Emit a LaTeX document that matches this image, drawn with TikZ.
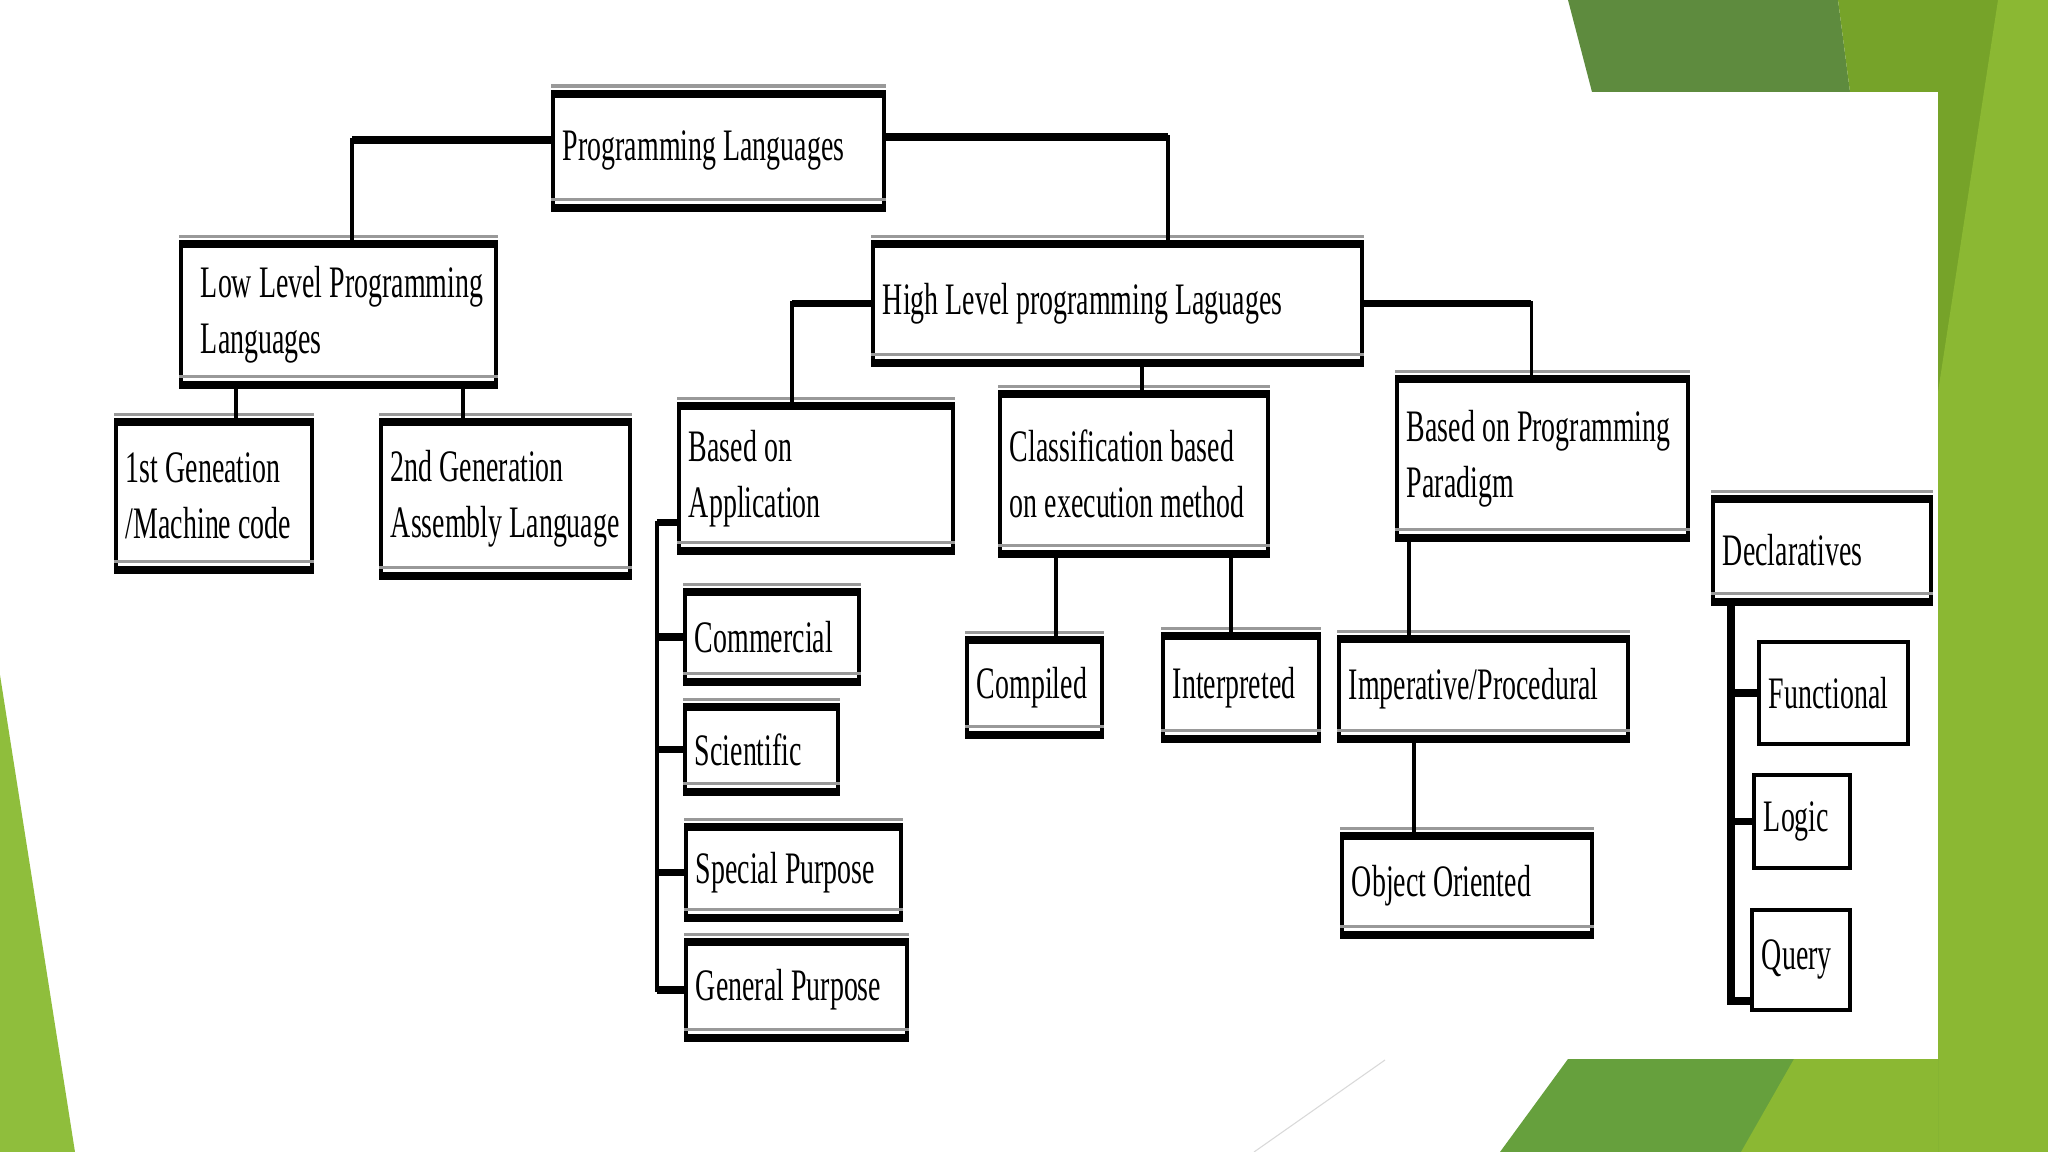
\documentclass[tikz,border=0pt]{standalone}
\usepackage{fontspec}
\setmainfont{Liberation Serif}[FakeStretch=0.62]
\usetikzlibrary{calc}
\definecolor{pldark}{HTML}{5E8B3E}
\definecolor{plmid}{HTML}{76A329}
\definecolor{pllight}{HTML}{8BB833}
\definecolor{plbottom}{HTML}{66A03D}
\definecolor{plleft}{HTML}{8FBE3C}
\tikzset{
  pl box/.style 2 args={draw=black, line width=1.1pt, fill=white, anchor=north west,
    align=left, inner xsep=0.1cm, inner ysep=0pt,
    font=\fontsize{12.8pt}{15.9pt}\selectfont,
    execute at begin node={\spaceskip=2pt plus 1pt minus .5pt\relax\hyphenpenalty=10000\relax},
    minimum width=#1*0.01cm, text width=#1*0.01cm-0.2cm, minimum height=#2*0.01cm},
  pl link/.style={draw=black, line width=1.1pt},
  pl stub/.style={draw=black, line width=2.1pt},
  pl rim/.style={draw=black, line width=2.4pt},
  pl shade/.style={draw=black!40, line width=1pt}
}

\begin{document}
\begin{tikzpicture}[x=0.01cm, y=-0.01cm]
  \useasboundingbox (0,0) rectangle (2048,1152);
  % slide background
  \fill[white] (0,0) rectangle (2048,1152);
  \fill[plleft] (0,675) -- (75,1152) -- (0,1152) -- cycle;
  \fill[pldark] (1568,0) -- (1592,92) -- (1850,92) -- (1838,0) -- cycle;
  \fill[plmid] (1838,0) -- (2048,0) -- (2048,1152) -- (1938,1152) -- (1938,92) -- (1850,92) -- cycle;
  \fill[pllight] (1998,0) -- (2048,0) -- (2048,1152) -- (1938,1152) -- (1938,392) -- cycle;
  \fill[plbottom] (1500,1152) -- (1568,1059) -- (1938,1059) -- (1938,1152) -- cycle;
  \fill[pllight] (1741,1152) -- (1794,1059) -- (1938,1059) -- (1938,1152) -- cycle;
  \draw[black!15, line width=0.3pt] (1254,1152) -- (1385,1060);

  % boxes
  \node[pl box={331}{110}] (pl) at (551,94) {Programming Languages};
  \node[pl box={315}{137}] (low) at (179,244) {\hspace{0.1cm}Low Level Programming\\\hspace{0.1cm}Languages};
  \node[pl box={196}{144}] (gen1) at (114,422) {1st Geneation\\/Machine code};
  \node[pl box={249}{150}] (gen2) at (379,422) {2nd Generation\\Assembly Language};
  \node[pl box={489}{115}] (high) at (871,244) {High Level programming Laguages};
  \node[pl box={274}{141}] (boa) at (677,406) {Based on\\Application};
  \node[pl box={268}{156}] (class) at (998,394) {Classification based\\on execution method};
  \node[pl box={291}{155}] (bpp) at (1395,379) {Based on Programming\\Paradigm};
  \node[pl box={174}{86}] (comm) at (683,592) {Commercial};
  \node[pl box={153}{81}] (sci) at (683,707) {Scientific};
  \node[pl box={215}{87}] (spec) at (684,827) {Special Purpose};
  \node[pl box={221}{92}] (gen) at (684,942) {General Purpose};
  \node[pl box={135}{91}] (comp) at (965,640) {Compiled};
  \node[pl box={156}{99}] (interp) at (1161,636) {Interpreted};
  \node[pl box={289}{96}] (imper) at (1337,639) {Imperative/Procedural};
  \node[pl box={250}{95}] (oo) at (1340,836) {Object Oriented};
  \node[pl box={218}{99}] (decl) at (1711,499) {Declaratives};
  \node[pl box={149}{102}] (func) at (1757,640) {Functional};
  \node[pl box={96}{93}] (logic) at (1752,773) {Logic};
  \node[pl box={98}{100}] (query) at (1750,908) {Query};

  % heavy top and bottom edges
  \foreach \n in {pl,low,gen1,gen2,high,boa,class,bpp,comm,sci,spec,gen,comp,interp,imper,oo,decl} {
    \draw[pl shade] ([yshift=2.2pt]\n.north west) -- ([yshift=2.2pt]\n.north east);
    \draw[pl shade] ([yshift=2.4pt]\n.south west) -- ([yshift=2.4pt]\n.south east);
    \draw[pl rim] (\n.north west) -- (\n.north east);
    \draw[pl rim] (\n.south west) -- (\n.south east);
  }

  % connector ends
  \coordinate (plleft) at ([yshift=.11cm]pl.west);
  \coordinate (plright) at ([yshift=.14cm]pl.east);
  \coordinate (lowtop) at ([xshift=.135cm]low.north);
  \coordinate (hightop) at ([xshift=.505cm]high.north);
  \coordinate (boatop) at ([xshift=-.24cm]boa.north);
  \coordinate (bpptop) at ([xshift=-.11cm]bpp.north);

  % connectors
  \draw[pl link] (plleft) -| (lowtop);
  \draw[pl stub] (plleft) -- (plleft -| lowtop);
  \draw[pl link] (plright) -| (hightop);
  \draw[pl stub] (plright) -- (plright -| hightop);
  \draw[pl link] ([xshift=.22cm]gen1.north) -- ([xshift=.22cm]gen1.north |- low.south);
  \draw[pl link] ([xshift=-.425cm]gen2.north) -- ([xshift=-.425cm]gen2.north |- low.south);
  \draw[pl link] (high.west) -| (boatop);
  \draw[pl stub] (high.west) -- (high.west -| boatop);
  \draw[pl link] ([xshift=.08cm]class.north) -- ([xshift=.08cm]class.north |- high.south);
  \draw[pl link] (high.east) -| (bpptop);
  \draw[pl stub] (high.east) -- (high.east -| bpptop);
  \draw[pl link] ([yshift=-.44cm]boa.west) -- ++(-.2cm,0) coordinate (appspine) |- (gen.west);
  \foreach \n in {comm,sci,spec,gen} \draw[pl stub] (\n.west) -- (\n.west -| appspine);
  \draw[pl stub] ([yshift=-.44cm]boa.west) -- (appspine);
  \draw[pl link] ([xshift=.215cm]comp.north) -- ([xshift=.215cm]comp.north |- class.south);
  \draw[pl link] ([xshift=-.1cm]interp.north) -- ([xshift=-.1cm]interp.north |- class.south);
  \draw[pl link] ([xshift=.14cm]bpp.south west) -- ([xshift=.14cm]bpp.south west |- imper.north);
  \draw[pl link] ([xshift=.77cm]imper.south west) -- ([xshift=.77cm]imper.south west |- oo.north);
  \draw[pl stub] ([xshift=.2cm]decl.south west) coordinate (declspine) |- ([yshift=.11cm]query.south west);
  \foreach \n in {func,logic} \draw[pl stub] (\n.west) -- (\n.west -| declspine);
\end{tikzpicture}
\end{document}
